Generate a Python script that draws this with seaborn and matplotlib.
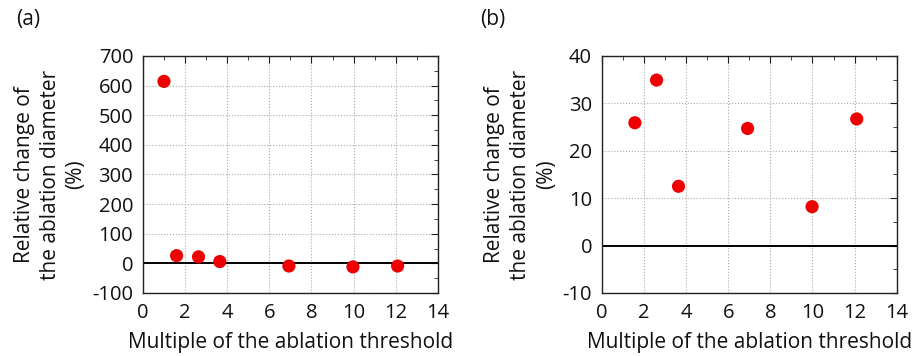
import matplotlib
matplotlib.use("Agg")
import matplotlib.pyplot as plt
import seaborn as sns
import pandas as pd
from matplotlib.ticker import MultipleLocator

# panel (a)
mult_a = [1.0, 1.6, 2.64, 3.65, 6.93, 9.97, 12.09]
change_a = [614, 26, 22, 6, -9, -12, -9]

# panel (b)
mult_b = [1.57, 2.6, 3.64, 6.92, 9.98, 12.1]
change_b = [25.9, 34.9, 12.5, 24.7, 8.2, 26.7]

df_a = pd.DataFrame({'mult': mult_a, 'change': change_a})
df_b = pd.DataFrame({'mult': mult_b, 'change': change_b})

sns.set_style('white')
plt.rcParams['font.family'] = ['Open Sans', 'DejaVu Sans']
plt.rcParams['axes.unicode_minus'] = False

fig = plt.figure(figsize=(9.16, 3.56), dpi=100)
ax_a = fig.add_axes([0.156, 0.177, 0.322, 0.666])
ax_b = fig.add_axes([0.657, 0.177, 0.322, 0.666])

ylabel = 'Relative change of\nthe ablation diameter\n(%)'
xlabel = 'Multiple of the ablation threshold'


def style_axis(ax, ylim, ymajor):
    ax.set_xlim(0, 14)
    ax.set_ylim(*ylim)
    ax.xaxis.set_major_locator(MultipleLocator(2))
    ax.xaxis.set_minor_locator(MultipleLocator(1))
    ax.yaxis.set_major_locator(MultipleLocator(ymajor))
    ax.yaxis.set_minor_locator(MultipleLocator(ymajor / 2))
    ax.grid(True, which='major', linestyle=':', color='#aaaaaa', linewidth=0.8)
    ax.set_axisbelow(True)
    ax.tick_params(which='both', direction='in', top=True, right=True,
                   labelsize=14.5, color='#222222', labelcolor='#111111')
    ax.tick_params(which='major', length=5, pad=7)
    ax.tick_params(which='minor', length=3)
    for sp in ax.spines.values():
        sp.set_color('#222222')
        sp.set_linewidth(1.0)
    ax.axhline(0, color='black', linewidth=1.4, zorder=2)
    ax.set_xlabel(xlabel, fontsize=15, labelpad=7, color='#111111')
    ax.set_ylabel(ylabel, fontsize=15, linespacing=1.3, labelpad=4,
                  color='#111111')


sns.scatterplot(data=df_a, x='mult', y='change', ax=ax_a, color='#ee0000',
                s=90, edgecolor='none', zorder=3)
style_axis(ax_a, (-100, 700), 100)

sns.scatterplot(data=df_b, x='mult', y='change', ax=ax_b, color='#ee0000',
                s=90, edgecolor='none', zorder=3)
style_axis(ax_b, (-10, 40), 10)

fig.text(0.018, 0.945, '(a)', fontsize=15, va='center', color='#111111')
fig.text(0.524, 0.945, '(b)', fontsize=15, va='center', color='#111111')

fig.savefig('out.png', dpi=100)
